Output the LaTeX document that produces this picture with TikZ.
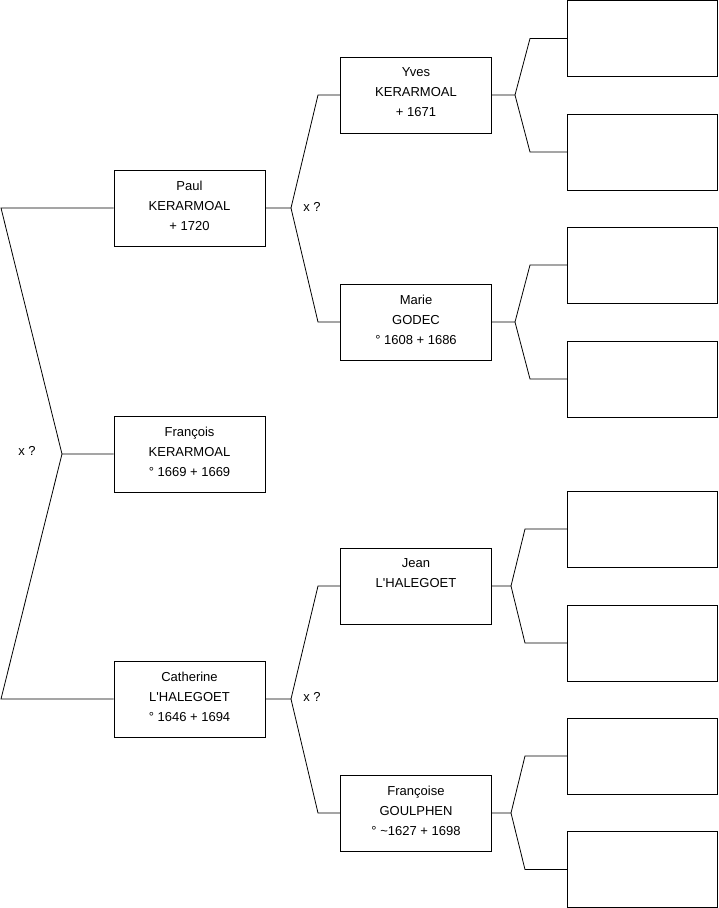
\documentclass[tikz,border=0pt]{standalone}
\usepackage{fontspec}
\setmainfont{Liberation Sans}[Ligatures=TeXOff]
\begin{document}
\begin{tikzpicture}[x=1pt, y=-1pt, line width=0.8pt,
  person/.style={draw, minimum width=151pt, minimum height=76pt, inner sep=0pt, align=center, text depth=5pt, font=\fontsize{13}{20}\selectfont},
  blank/.style={draw, minimum width=150pt, minimum height=76pt, inner sep=0pt},
  union/.style={font=\fontsize{13}{15}\selectfont, inner sep=0pt}]
\useasboundingbox (0,0) rectangle (719,908);
% children
\node[person] (paul) at (189.5,208) {Paul\\KERARMOAL\\+ 1720};
\node[person] (francois) at (189.5,454) {François\\KERARMOAL\\° 1669 + 1669};
\node[person] (catherine) at (189.5,699) {Catherine\\L'HALEGOET\\° 1646 + 1694};
% parents
\node[person] (yves) at (416,95) {Yves\\KERARMOAL\\+ 1671};
\node[person] (marie) at (416,322) {Marie\\GODEC\\° 1608 + 1686};
\node[person] (jean) at (416,586) {Jean\\L'HALEGOET\\\mbox{}};
\node[person] (francoise) at (416,813) {Françoise\\GOULPHEN\\° \textasciitilde1627 + 1698};
% grandparents, unknown
\node[blank] (yvesf) at (642.5,38.5) {};
\node[blank] (yvesm) at (642.5,152) {};
\node[blank] (marief) at (642.5,265) {};
\node[blank] (mariem) at (642.5,379) {};
\node[blank] (jeanf) at (642.5,529) {};
\node[blank] (jeanm) at (642.5,643) {};
\node[blank] (francoisef) at (642.5,756) {};
\node[blank] (francoisem) at (642.5,869.5) {};
% union marks
\node[union] (xsiblings) at (27,451) {x ?};
\node[union] (xpaul) at (312,207) {x ?};
\node[union] (xcatherine) at (312,697) {x ?};
% bracket points
\coordinate (sibtop) at (1,208);
\coordinate (sibfork) at (62,454);
\coordinate (sibbot) at (1,699);
\coordinate (paulfork) at (291,208);
\coordinate (paultop) at (318,95);
\coordinate (paulbot) at (318,322);
\coordinate (cathfork) at (291,699);
\coordinate (cathtop) at (318,586);
\coordinate (cathbot) at (318,813);
\coordinate (yvesfork) at (515,95);
\coordinate (yvestop) at (530,38.5);
\coordinate (yvesbot) at (530,152);
\coordinate (mariefork) at (515,322);
\coordinate (marietop) at (530,265);
\coordinate (mariebot) at (530,379);
\coordinate (jeanfork) at (511,586);
\coordinate (jeantop) at (525,529);
\coordinate (jeanbot) at (525,643);
\coordinate (francoisefork) at (511,813);
\coordinate (francoisetop) at (525,756);
\coordinate (francoisebot) at (525,869.5);
% links
\draw (paul.west) -- (sibtop) -- (sibfork) -- (francois.west);
\draw (sibfork) -- (sibbot) -- (catherine.west);
\draw (paul.east) -- (paulfork) -- (paultop) -- (yves.west);
\draw (paulfork) -- (paulbot) -- (marie.west);
\draw (catherine.east) -- (cathfork) -- (cathtop) -- (jean.west);
\draw (cathfork) -- (cathbot) -- (francoise.west);
\draw (yves.east) -- (yvesfork) -- (yvestop) -- (yvesf.west);
\draw (yvesfork) -- (yvesbot) -- (yvesm.west);
\draw (marie.east) -- (mariefork) -- (marietop) -- (marief.west);
\draw (mariefork) -- (mariebot) -- (mariem.west);
\draw (jean.east) -- (jeanfork) -- (jeantop) -- (jeanf.west);
\draw (jeanfork) -- (jeanbot) -- (jeanm.west);
\draw (francoise.east) -- (francoisefork) -- (francoisetop) -- (francoisef.west);
\draw (francoisefork) -- (francoisebot) -- (francoisem.west);
\end{tikzpicture}
\end{document}
